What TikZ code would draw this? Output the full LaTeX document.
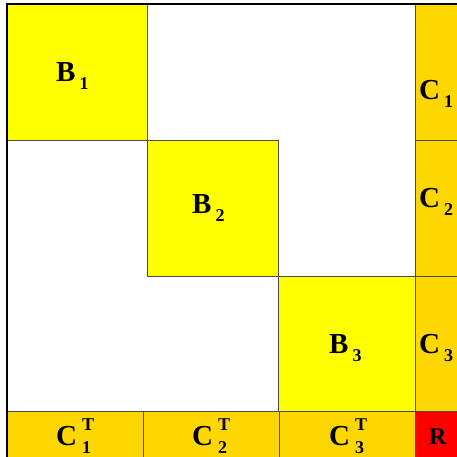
\documentclass[tikz,border=0pt]{standalone}
\usepackage{fontspec}
\setmainfont{Liberation Serif}
\usepackage{xcolor}
\definecolor{blockyellow}{HTML}{FFFF00}
\definecolor{bordergold}{HTML}{FFD700}
\definecolor{cornerred}{HTML}{FF0000}
\tikzset{
  cell/.style={draw=black!70, line width=0.8pt},
  lbl/.style={anchor=base west, inner sep=0pt, font=\fontsize{29}{29}\selectfont\bfseries}
}
\newcommand{\subidx}[2]{#1\hspace{4pt}\raisebox{-8pt}{\fontsize{18}{18}\selectfont #2}}
\newcommand{\supsubidx}[2]{#1\hspace{5pt}\rlap{\raisebox{15pt}{\fontsize{18}{18}\selectfont T}}\raisebox{-8pt}{\fontsize{18}{18}\selectfont #2}}

\begin{document}
\begin{tikzpicture}[x=1pt, y=-1pt]
  \useasboundingbox (0,0) rectangle (457,457);
  \fill[white] (0,0) rectangle (457,457);
  % diagonal blocks
  \filldraw[cell, fill=blockyellow] (7,4) rectangle (147,140);
  \filldraw[cell, fill=blockyellow] (147,140) rectangle (278,276);
  \filldraw[cell, fill=blockyellow] (278,276) rectangle (415,411);
  % border column
  \filldraw[cell, fill=bordergold] (415,4) rectangle (460,140);
  \filldraw[cell, fill=bordergold] (415,140) rectangle (460,276);
  \filldraw[cell, fill=bordergold] (415,276) rectangle (460,411);
  % border row
  \filldraw[cell, fill=bordergold] (7,411) rectangle (143,460);
  \filldraw[cell, fill=bordergold] (143,411) rectangle (279,460);
  \filldraw[cell, fill=bordergold] (279,411) rectangle (415,460);
  \filldraw[cell, fill=cornerred] (415,411) rectangle (460,460);
  % outer frame
  \draw[line width=2pt] (7,460) -- (7,4) -- (460,4);
  % labels
  \node[lbl] (b1) at (56,82) {\subidx{B}{1}};
  \node[lbl] (b2) at (192,213) {\subidx{B}{2}};
  \node[lbl] (b3) at (329,353) {\subidx{B}{3}};
  \node[lbl] (c1) at (419,100) {\subidx{C}{1}};
  \node[lbl] (c2) at (419,207) {\subidx{C}{2}};
  \node[lbl] (c3) at (419,353) {\subidx{C}{3}};
  \node[lbl] (ct1) at (56,445) {\supsubidx{C}{1}};
  \node[lbl] (ct2) at (192,445) {\supsubidx{C}{2}};
  \node[lbl] (ct3) at (329,445) {\supsubidx{C}{3}};
  \node[lbl, font=\fontsize{24}{24}\selectfont\bfseries] (r) at (429,444) {R};
\end{tikzpicture}
\end{document}
